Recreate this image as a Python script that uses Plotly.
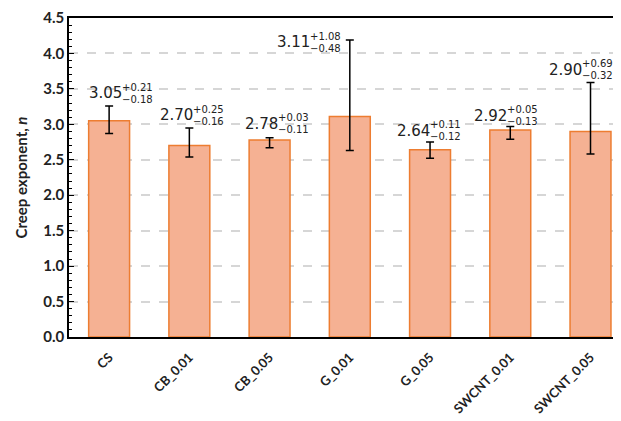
import plotly.graph_objects as go

categories = ["CS", "CB_0.01", "CB_0.05", "G_0.01", "G_0.05", "SWCNT_0.01", "SWCNT_0.05"]
values = [3.05, 2.70, 2.78, 3.11, 2.64, 2.92, 2.90]
err_plus = [0.21, 0.25, 0.03, 1.08, 0.11, 0.05, 0.69]
err_minus = [0.18, 0.16, 0.11, 0.48, 0.12, 0.13, 0.32]
y_ticks = [0.0, 0.5, 1.0, 1.5, 2.0, 2.5, 3.0, 3.5, 4.0, 4.5]

# label placement (layout only)
label_dy = [0.22, 0.22, 0.24, 0.01, 0.20, 0.19, 0.22]
label_dx = [13, 4, 8, -40, 0, -3, -9]

fig = go.Figure()
fig.add_trace(go.Bar(
    x=list(range(len(categories))), y=values,
    marker=dict(color="#F5B193", line=dict(color="#ED7D31", width=1.5)),
    error_y=dict(type="data", symmetric=False, array=err_plus, arrayminus=err_minus,
                 color="black", thickness=1.5, width=4),
    showlegend=False,
))

annots = []
for i, (v, p, m) in enumerate(zip(values, err_plus, err_minus)):
    ly = v + p + label_dy[i]
    annots.append(dict(x=i, y=ly, xref="x", yref="y", text=f"{v:.2f}", showarrow=False,
                       xanchor="right", yanchor="middle", xshift=label_dx[i] + 1, yshift=-3, borderpad=0,
                       font=dict(family="DejaVu Sans", size=15, color="#222222")))
    annots.append(dict(x=i, y=ly, xref="x", yref="y", text=f"+{p:.2f}", showarrow=False,
                       xanchor="left", yanchor="middle", xshift=label_dx[i] - 1, yshift=3, borderpad=0,
                       font=dict(family="DejaVu Sans", size=10, color="#222222")))
    annots.append(dict(x=i, y=ly, xref="x", yref="y", text=f"\u2212{m:.2f}", showarrow=False,
                       xanchor="left", yanchor="middle", xshift=label_dx[i] - 1, yshift=-9, borderpad=0,
                       font=dict(family="DejaVu Sans", size=10, color="#222222")))

fig.update_layout(
    width=613, height=413,
    margin=dict(l=61, r=0, t=10, b=84),
    paper_bgcolor="white", plot_bgcolor="white",
    bargap=0.49,
    annotations=annots,
    xaxis=dict(
        tickmode="array", tickvals=list(range(len(categories))), ticktext=categories,
        range=[-0.5, 6.38], tickangle=-45, automargin=False, ticklabelstandoff=6,
        tickfont=dict(family="Lato", size=13, color="#222222", weight="bold"),
        showline=True, linecolor="black", linewidth=1.5, mirror=True,
        ticks="", showgrid=False, zeroline=False,
    ),
    yaxis=dict(
        range=[0, 4.5], tickvals=y_ticks, ticktext=[f"{t:.1f}" for t in y_ticks],
        tickfont=dict(family="Lato", size=15, color="#222222", weight="bold"),
        showline=True, linecolor="black", linewidth=1.5, automargin=False,
        ticks="inside", ticklen=5, tickwidth=1.2, tickcolor="black",
        minor=dict(ticks="inside", ticklen=3, dtick=0.1, tickcolor="black", tickwidth=1, showgrid=False),
        showgrid=True, gridcolor="#d6d6d6", griddash="dash", gridwidth=1.5,
        zeroline=False,
        title=dict(text="Creep exponent, <i>n</i>", standoff=12,
                   font=dict(family="Lato", size=15, color="#222222", weight="bold")),
    ),
)

fig.write_html("out.html")
